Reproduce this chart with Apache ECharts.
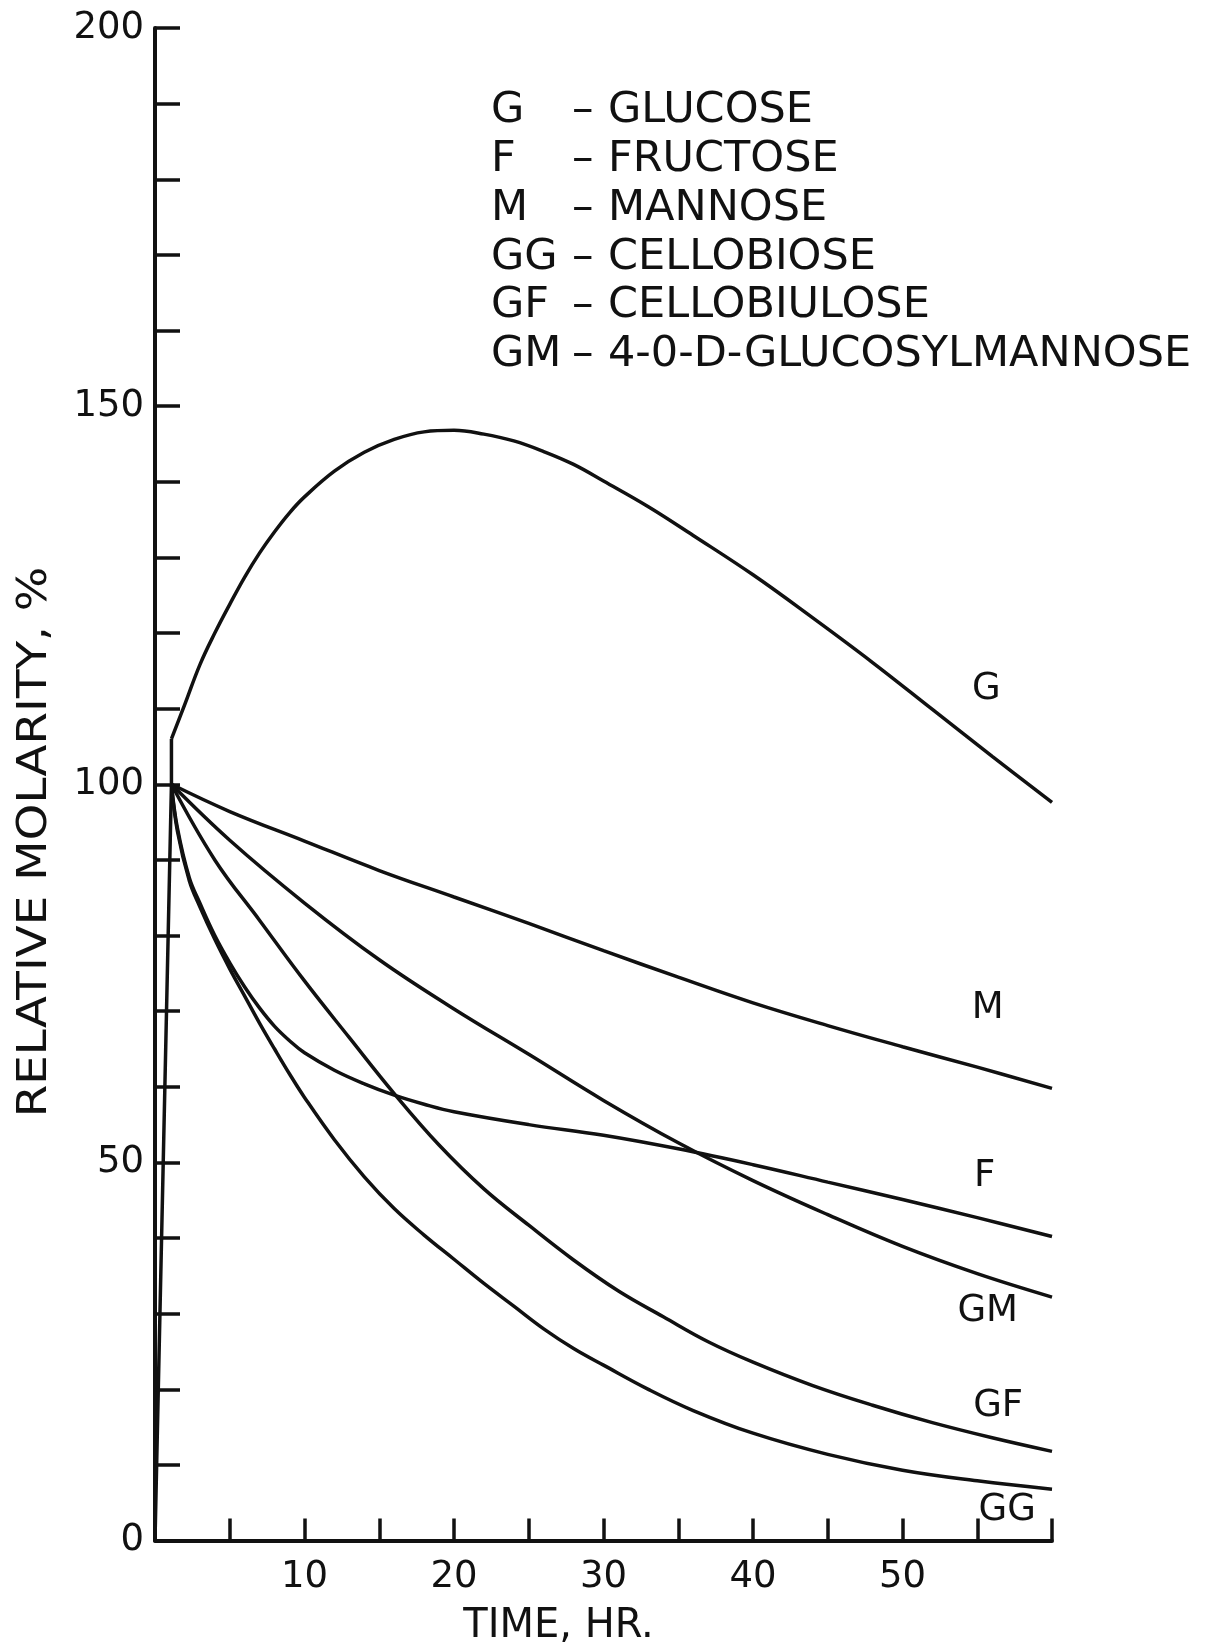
<!DOCTYPE html>
<html>
<head>
<meta charset="utf-8">
<script src="https://cdn.jsdelivr.net/npm/echarts@6/dist/echarts.min.js"></script>
<style>
  html, body { margin: 0; padding: 0; background: #ffffff; overflow: hidden; }
  #chart { width: 1205px; height: 1645px; }
</style>
</head>
<body>
<div id="chart"></div>
<script>
// ---- Data (time in hr, relative molarity in %) ----
const onset = [[0, 0], [1.1, 100], [1.1, 106]];
const glucose = [[1.1,106],[2,110.6],[3,115.8],[4,120.0],[5,123.8],[6,127.4],[7,130.6],[8,133.4],[9,135.9],[10,138.0],[12,141.4],[14,143.9],[16,145.6],[18,146.6],[20,146.8],[22,146.3],[24,145.4],[26,144.0],[28,142.3],[30,140.1],[33,136.7],[36,132.9],[40,127.7],[44,122.0],[48,116.1],[52,109.9],[56,103.7],[60,97.6]];
const mannose = [[1.1,100],[5,96.4],[10,92.5],[15,88.6],[20,85.1],[25,81.6],[30,78.0],[35,74.5],[40,71.1],[45,68.1],[50,65.3],[55,62.6],[60,59.8]];
const glucosylmannose = [[1.1,100],[5,92.6],[10,84.3],[15,76.8],[20,70.3],[25,64.3],[30,58.2],[35,52.6],[40,47.6],[45,43.1],[50,38.9],[55,35.3],[60,32.2]];
const fructose = [[1.1,100],[1.5,94.2],[2.3,87.6],[3,84.3],[4,80.0],[5,76.4],[6,73.2],[7,70.4],[8,68.0],[9,66.1],[10,64.5],[12,62.2],[14,60.4],[16,58.9],[18,57.7],[20,56.7],[25,55.0],[30,53.6],[35,51.8],[40,49.7],[45,47.4],[50,45.1],[55,42.7],[60,40.2]];
const cellobiulose = [[1.1,100],[4,90.0],[7,82.0],[10,74.0],[13,66.5],[16,59.1],[19,52.3],[22,46.5],[25,41.7],[28,37.1],[31,33.0],[34,29.6],[37,26.3],[40,23.6],[44,20.5],[48,17.9],[52,15.6],[56,13.6],[60,11.8]];
const cellobiose = [[1.1,100],[1.5,93.8],[2.3,87.2],[3,83.8],[4,79.5],[5,75.6],[6,72.0],[7,68.4],[8,65.0],[9,61.7],[10,58.6],[12,53.0],[14,48.1],[16,43.9],[18,40.4],[20,37.2],[22,34.0],[24,31.0],[26,28.0],[28,25.4],[30,23.2],[33,20.0],[36,17.2],[40,14.2],[45,11.4],[50,9.3],[55,7.9],[60,6.8]];

const curveLabelNames = ['G', 'M', 'F', 'GM', 'GF', 'GG'];
const curveLabelPos = [[55.6,112.5],[55.7,70.4],[55.5,48.1],[55.7,30.3],[56.4,17.8],[57.0,4.0]];

const legendCodes = ['G', 'F', 'M', 'GG', 'GF', 'GM'];
const legendNames = ['GLUCOSE', 'FRUCTOSE', 'MANNOSE', 'CELLOBIOSE', 'CELLOBIULOSE', '4-0-D-GLUCOSYLMANNOSE'];

const xTickLabels = [10, 20, 30, 40, 50];
const yTickLabels = [0, 50, 100, 150, 200];

// ---- Styling ----
const INK = '#111111';
const FONT = 'DejaVu Sans';

function curve(name, data) {
  return {
    name: name, type: 'line', data: data, smooth: 0.4,
    symbol: 'none', lineStyle: { color: INK, width: 3.5 },
    z: 3
  };
}

const graphics = [];
const rowY = [111, 160, 209, 258, 306, 355];
legendCodes.forEach((c, i) => {
  const f = '43px "' + FONT + '"';
  graphics.push({ type: 'text', x: 491, y: rowY[i],
    style: { text: c, font: f, fill: INK, align: 'left', verticalAlign: 'middle' } });
  graphics.push({ type: 'text', x: 572, y: rowY[i],
    style: { text: '–', font: f, fill: INK, align: 'left', verticalAlign: 'middle' } });
  graphics.push({ type: 'text', x: 608, y: rowY[i],
    style: { text: legendNames[i], font: f, fill: INK, align: 'left', verticalAlign: 'middle' } });
});
// y-axis title (stretched along its length like the original lettering)
graphics.push({ type: 'text', x: 36, y: 842, rotation: Math.PI / 2, scaleX: 1.17,
  style: { text: 'RELATIVE MOLARITY, %', font: '40px "' + FONT + '"', fill: INK,
    align: 'center', verticalAlign: 'middle' } });

const chart = echarts.init(document.getElementById('chart'), null, { renderer: 'canvas' });
chart.setOption({
  backgroundColor: '#ffffff',
  animation: false,
  grid: { left: 155, right: 153, top: 28, bottom: 104.4, containLabel: false, outerBoundsMode: 'none' },
  xAxis: {
    type: 'value', min: 0, max: 60, interval: 5,
    name: 'TIME, HR.', nameLocation: 'middle', nameGap: 66,
    nameTextStyle: { fontFamily: FONT, fontSize: 40, color: INK, padding: [0, 90, 0, 0] },
    axisLine: { show: true, lineStyle: { color: INK, width: 4 } },
    axisTick: { show: true, inside: true, length: 22, lineStyle: { color: INK, width: 3.5 } },
    axisLabel: { margin: 18, fontFamily: FONT, fontSize: 37, color: INK,
      formatter: v => xTickLabels.indexOf(v) >= 0 ? String(v) : '' },
    splitLine: { show: false }
  },
  yAxis: {
    type: 'value', min: 0, max: 200, interval: 10,
    axisLine: { show: true, lineStyle: { color: INK, width: 4 } },
    axisTick: { show: true, inside: true, length: 25, lineStyle: { color: INK, width: 3.5 } },
    axisLabel: { margin: 11, fontFamily: FONT, fontSize: 37, color: INK,
      formatter: v => yTickLabels.indexOf(v) >= 0 ? String(v) : '' },
    splitLine: { show: false }
  },
  graphic: graphics,
  series: [
    { name: 'onset', type: 'line', data: onset, smooth: false, symbol: 'none',
      lineStyle: { color: INK, width: 3.5 }, z: 3 },
    curve('G', glucose),
    curve('M', mannose),
    curve('GM', glucosylmannose),
    curve('F', fructose),
    curve('GF', cellobiulose),
    curve('GG', cellobiose),
    {
      name: 'labels', type: 'scatter', symbolSize: 0,
      data: curveLabelPos.map((p, i) => [p[0], p[1], curveLabelNames[i]]),
      itemStyle: { color: INK, opacity: 1 },
      label: { show: true, position: 'inside', formatter: p => p.value[2],
        fontFamily: FONT, fontSize: 37, color: INK, opacity: 1,
        textBorderWidth: 0, textBorderColor: 'transparent' },
      emphasis: { disabled: true },
      z: 4
    }
  ]
});
</script>
</body>
</html>
